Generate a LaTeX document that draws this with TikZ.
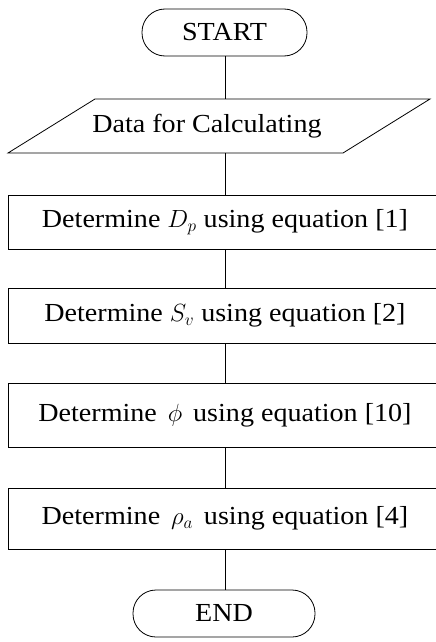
\documentclass[tikz,border=0pt]{standalone}
\usepackage{fontspec}
\setmainfont{Liberation Serif}[FakeStretch=1.08]
\begin{document}
\begin{tikzpicture}[x=1pt,y=-1pt,
  line width=0.8pt,
  every node/.style={font=\fontsize{26}{30}\selectfont, inner sep=0pt},
  term/.style={draw, rounded corners=23pt, minimum height=47pt},
  proc/.style={draw, minimum width=434pt},
  link/.style={draw}]
\useasboundingbox (0,0) rectangle (436,642);
\node[term, minimum width=165pt] (start) at (224.5,32.5) {START};
\draw (95,99) -- (430,99) -- (343,153) -- (8,153) -- cycle;
\node (data) at (207,126) {Data for Calculating};
\coordinate (dtop) at (225,99);
\coordinate (dbot) at (225,153);
\node[proc, minimum height=54pt] (b1) at (225,222) {Determine $D_p$ using equation [1]};
\node[proc, minimum height=55pt] (b2) at (225,315.5) {Determine $S_v$ using equation [2]};
\node[proc, minimum height=64pt] (b3) at (225,415) {Determine\hspace{0.15em} $\phi$\hspace{0.15em} using equation [10]};
\node[proc, minimum height=61pt] (b4) at (225,518.5) {Determine\hspace{0.15em} $\rho_a$\hspace{0.15em} using equation [4]};
\node[term, minimum width=182pt] (end) at (224,613.5) {END};
\draw (start.south -| dtop) -- (dtop);
\draw (dbot) -- (b1.north);
\draw (b1) -- (b2);
\draw (b2) -- (b3);
\draw (b3) -- (b4);
\draw (b4.south) -- (b4.south |- end.north);
\end{tikzpicture}
\end{document}
